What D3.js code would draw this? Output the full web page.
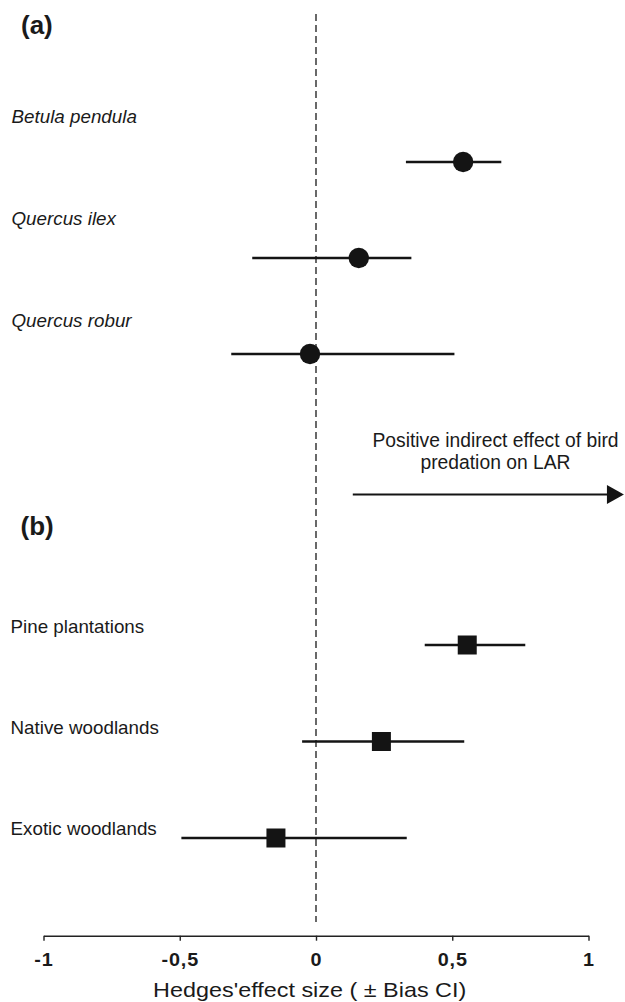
<!DOCTYPE html>
<html>
<head>
<meta charset="utf-8">
<script src="https://cdn.jsdelivr.net/npm/d3@7"></script>
<style>
  html, body { margin: 0; padding: 0; background: #fff; }
  svg { display: block; }
  text { font-family: "Liberation Sans", Arial, Helvetica, sans-serif; fill: #1a1a1a; }
</style>
</head>
<body>
<svg id="chart" width="625" height="1002"></svg>
<script>
// ---- Data ----
const speciesNames = ["Betula pendula", "Quercus ilex", "Quercus robur"];
const speciesMean  = [0.54, 0.157, -0.022];
const speciesLow   = [0.33, -0.234, -0.311];
const speciesHigh  = [0.68, 0.35, 0.508];

const habitatNames = ["Pine plantations", "Native woodlands", "Exotic woodlands"];
const habitatMean  = [0.555, 0.24, -0.147];
const habitatLow   = [0.399, -0.051, -0.494];
const habitatHigh  = [0.768, 0.544, 0.333];

const tickValues = [-1, -0.5, 0, 0.5, 1];
const tickLabels = ["-1", "-0,5", "0", "0,5", "1"];

const panelLabels = ["(a)", "(b)"];
const arrowText = ["Positive indirect effect of bird", "predation on LAR"];
const arrowFrom = 0.135;
const arrowTo = 1.13;
const axisTitle = "Hedges'effect size ( \u00B1 Bias CI)";

// ---- Layout ----
const svg = d3.select("#chart");
const axisY = 935.7;

const x = d3.scaleLinear().domain([-1, 1]).range([43.5, 588.5]);

const yA = d3.scalePoint().domain(speciesNames).range([162, 354]);
const yALabel = d3.scalePoint().domain(speciesNames).range([123.3, 326.7]);
const yB = d3.scalePoint().domain(habitatNames).range([645, 838]);
const yBLabel = d3.scalePoint().domain(habitatNames).range([633.3, 835]);

const speciesData = speciesNames.map((n, i) => ({name: n, mean: speciesMean[i], lo: speciesLow[i], hi: speciesHigh[i]}));
const habitatData = habitatNames.map((n, i) => ({name: n, mean: habitatMean[i], lo: habitatLow[i], hi: habitatHigh[i]}));

const ink = "#141414";

// zero reference dashed line
svg.append("line")
  .attr("x1", x(0)).attr("x2", x(0))
  .attr("y1", 14).attr("y2", 922)
  .attr("stroke", "#2a2a2a").attr("stroke-width", 1.4)
  .attr("stroke-dasharray", "7,4");

// panel labels
svg.append("text").attr("x", 21).attr("y", 34)
  .style("font-size", "26px").style("font-weight", "bold").text(panelLabels[0]);
svg.append("text").attr("x", 20.5).attr("y", 534.5)
  .style("font-size", "26px").style("font-weight", "bold").text(panelLabels[1]);

// Panel (a)
const gA = svg.append("g");
gA.selectAll("text.lab").data(speciesData).join("text")
  .attr("class", "lab")
  .attr("transform", d => `translate(11.5,${yALabel(d.name)}) scale(1.045,1)`)
  .style("font-size", "18px").style("font-style", "italic")
  .text(d => d.name);
gA.selectAll("line.ci").data(speciesData).join("line")
  .attr("class", "ci")
  .attr("x1", d => x(d.lo)).attr("x2", d => x(d.hi))
  .attr("y1", d => yA(d.name)).attr("y2", d => yA(d.name))
  .attr("stroke", ink).attr("stroke-width", 2.5);
gA.selectAll("circle.pt").data(speciesData).join("circle")
  .attr("class", "pt")
  .attr("cx", d => x(d.mean)).attr("cy", d => yA(d.name))
  .attr("r", 10.2).attr("fill", ink);

// Panel (b)
const gB = svg.append("g");
gB.selectAll("text.lab").data(habitatData).join("text")
  .attr("class", "lab")
  .attr("transform", d => `translate(10.5,${yBLabel(d.name)}) scale(1.045,1)`)
  .style("font-size", "18px")
  .text(d => d.name);
gB.selectAll("line.ci").data(habitatData).join("line")
  .attr("class", "ci")
  .attr("x1", d => x(d.lo)).attr("x2", d => x(d.hi))
  .attr("y1", d => yB(d.name)).attr("y2", d => yB(d.name))
  .attr("stroke", ink).attr("stroke-width", 2.5);
const sq = 19;
gB.selectAll("rect.pt").data(habitatData).join("rect")
  .attr("class", "pt")
  .attr("x", d => x(d.mean) - sq / 2).attr("y", d => yB(d.name) - sq / 2)
  .attr("width", sq).attr("height", sq).attr("fill", ink);

// Arrow annotation
const arrowY = 494.5;
const headLen = 17, headHalf = 9.5;
svg.append("line")
  .attr("x1", x(arrowFrom)).attr("x2", x(arrowTo) - headLen + 1)
  .attr("y1", arrowY).attr("y2", arrowY)
  .attr("stroke", ink).attr("stroke-width", 2);
svg.append("path")
  .attr("d", `M${x(arrowTo)},${arrowY} L${x(arrowTo) - headLen},${arrowY - headHalf} L${x(arrowTo) - headLen},${arrowY + headHalf} Z`)
  .attr("fill", ink);
svg.selectAll("text.arrowtxt").data(arrowText).join("text")
  .attr("class", "arrowtxt")
  .attr("x", 495.5).attr("y", (d, i) => 446.7 + i * 22.6)
  .attr("text-anchor", "middle")
  .style("font-size", "19.3px")
  .text(d => d);

// X axis
const axis = d3.axisBottom(x)
  .tickValues(tickValues)
  .tickFormat((d, i) => tickLabels[i])
  .tickSizeInner(5).tickSizeOuter(0);
const gAx = svg.append("g").attr("transform", `translate(0,${axisY})`).call(axis);
gAx.select(".domain").attr("stroke", "#222").attr("stroke-width", 1.4);
gAx.selectAll(".tick line").attr("stroke", "#222").attr("stroke-width", 1.4);
gAx.selectAll(".tick text")
  .attr("y", 0).attr("dy", 0)
  .attr("transform", "translate(0,30) scale(1.1,1)")
  .style("font-family", "'Liberation Sans', Arial, Helvetica, sans-serif")
  .style("font-size", "18px").style("font-weight", "bold")
  .style("letter-spacing", "0.8px")
  .attr("fill", "#1a1a1a");

// Axis title
svg.append("text")
  .attr("transform", `translate(309.7,996.7) scale(1.17,1)`)
  .attr("text-anchor", "middle")
  .style("font-size", "20px")
  .text(axisTitle);
</script>
</body>
</html>
